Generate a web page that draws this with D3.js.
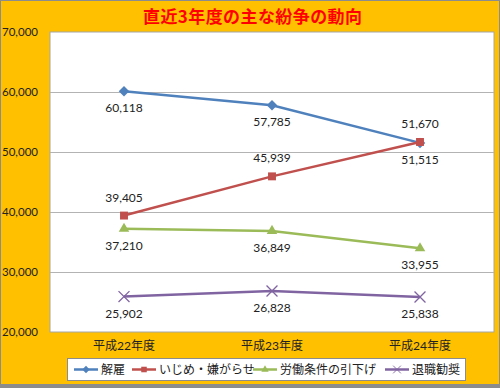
<!DOCTYPE html>
<html>
<head>
<meta charset="utf-8">
<script src="https://cdn.jsdelivr.net/npm/d3@7"></script>
<style>
  body { margin: 0; background: #fff; }
  svg { display: block; }
  text { font-family: Lato, "Noto Sans CJK JP", sans-serif; fill: #222; }
</style>
</head>
<body>
<div id="chart"></div>
<script>
// data
var years = ["平成22年度", "平成23年度", "平成24年度"];
var seriesNames = ["解雇", "いじめ・嫌がらせ", "労働条件の引下げ", "退職勧奨"];
var kaiko = [60118, 57785, 51515];
var ijime = [39405, 45939, 51670];
var roudou = [37210, 36849, 33955];
var taishoku = [25902, 26828, 25838];
var yTicks = [20000, 30000, 40000, 50000, 60000, 70000];

var colors = ["#4f81bd", "#c0504d", "#9bbb59", "#8064a2"];
var symbols = ["diamond", "square", "triangle", "cross"];
var labelSide = [1, -1, 1, 1]; // 1 = below, -1 = above

var series = [kaiko, ijime, roudou, taishoku].map(function(v, i) {
  return { name: seriesNames[i], values: v, color: colors[i], sym: symbols[i], side: labelSide[i] };
});

var width = 500, height = 388;
var plot = { left: 50, top: 32, right: 494, bottom: 332 };

var svg = d3.select("#chart").append("svg")
    .attr("width", width)
    .attr("height", height);

// background
svg.append("rect")
    .attr("x", 0.5).attr("y", 0.5)
    .attr("width", width - 1).attr("height", height - 1)
    .attr("fill", "#ffc000")
    .attr("stroke", "#8c8c8c");
svg.append("rect")
    .attr("x", 0).attr("y", height - 4)
    .attr("width", width).attr("height", 4)
    .attr("fill", "#8c8c8c");

// title
svg.append("text")
    .attr("x", 143).attr("y", 23)
    .attr("textLength", 219)
    .attr("lengthAdjust", "spacing")
    .style("font-family", "'Noto Sans CJK JP', sans-serif")
    .style("font-size", "17px")
    .style("font-weight", "bold")
    .style("fill", "#ff0000")
    .text("直近3年度の主な紛争の動向");

var x = d3.scaleBand().domain(years).range([plot.left, plot.right]);
var y = d3.scaleLinear().domain([20000, 70000]).range([plot.bottom, plot.top]);

// plot area
svg.append("rect")
    .attr("x", plot.left).attr("y", plot.top)
    .attr("width", plot.right - plot.left).attr("height", plot.bottom - plot.top)
    .attr("fill", "#fff")
    .attr("stroke", "#a6a6a6");

// grid
svg.append("g")
  .selectAll("line")
  .data(yTicks.slice(1, -1))
  .enter().append("line")
    .attr("x1", plot.left).attr("x2", plot.right)
    .attr("y1", function(d) { return y(d) + 0.5; })
    .attr("y2", function(d) { return y(d) + 0.5; })
    .attr("stroke", "#b3b3b3");

// y axis labels
var yAxis = d3.axisLeft(y).tickValues(yTicks).tickSize(0).tickPadding(0)
    .tickFormat(d3.format(","));
svg.append("g")
    .attr("transform", "translate(38,0)")
    .call(yAxis)
    .call(function(g) { g.select(".domain").remove(); })
    .selectAll("text")
    .style("font-size", "11.5px")
    .style("font-family", "Lato, sans-serif")
    .attr("fill", "#222");

// x axis labels
var xAxis = d3.axisBottom(x).tickSize(0).tickPadding(0);
svg.append("g")
    .attr("transform", "translate(0,341)")
    .call(xAxis)
    .call(function(g) { g.select(".domain").remove(); })
    .selectAll("text")
    .style("font-size", "12px")
    .style("font-family", "Lato, 'Noto Sans CJK JP', sans-serif")
    .attr("fill", "#222");

var cx = function(d, i) { return x(years[i]) + x.bandwidth() / 2; };

var line = d3.line()
    .x(function(d, i) { return x(years[i]) + x.bandwidth() / 2; })
    .y(function(d) { return y(d); });

function symbolPath(sym) {
  if (sym === "diamond") return d3.symbol(d3.symbolDiamond2, 70)();
  if (sym === "square") return d3.symbol(d3.symbolSquare2, 80)();
  if (sym === "triangle") return d3.symbol(d3.symbolTriangle2, 80)();
  return d3.symbol(d3.symbolX, 80)();
}

function drawMarker(g, s) {
  var p = g.append("path").attr("d", symbolPath(s.sym));
  if (s.sym === "cross") {
    p.attr("fill", "none").attr("stroke", s.color).attr("stroke-width", 1.3);
  } else {
    p.attr("fill", s.color);
  }
  return p;
}

series.forEach(function(s) {
  var g = svg.append("g");
  g.append("path")
      .datum(s.values)
      .attr("d", line)
      .attr("fill", "none")
      .attr("stroke", s.color)
      .attr("stroke-width", 2.5);

  s.values.forEach(function(v, i) {
    var m = g.append("g")
        .attr("transform", "translate(" + cx(v, i) + "," + y(v) + ")");
    drawMarker(m, s);
  });

  g.selectAll("text.lbl")
    .data(s.values)
    .enter().append("text")
      .attr("class", "lbl")
      .attr("x", cx)
      .attr("y", function(d) { return y(d) + (s.side > 0 ? 21 : -14); })
      .attr("text-anchor", "middle")
      .style("font-size", "12px")
      .text(d3.format(","));
});

// legend
var legend = svg.append("g");
legend.append("rect")
    .attr("x", 67.5).attr("y", 358.5)
    .attr("width", 398).attr("height", 22)
    .attr("fill", "#fff")
    .attr("stroke", "#8c8c8c");

var legendX = [74, 132, 253, 385];
series.forEach(function(s, i) {
  var lg = legend.append("g").attr("transform", "translate(" + legendX[i] + ",369.5)");
  lg.append("line")
      .attr("x1", 0).attr("x2", 24)
      .attr("stroke", s.color).attr("stroke-width", 2.5);
  var m = lg.append("g").attr("transform", "translate(12,0) scale(0.7)");
  drawMarker(m, s);
  lg.append("text")
      .attr("x", 27).attr("y", 4.5)
      .style("font-size", "12px")
      .style("font-family", "'Noto Sans CJK JP', sans-serif")
      .text(s.name);
});
</script>
</body>
</html>
